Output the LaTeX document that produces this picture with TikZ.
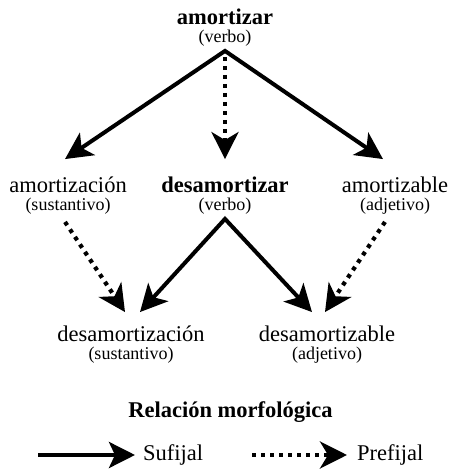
\documentclass[tikz,border=0pt]{standalone}
\usepackage{fontspec}
\setmainfont{Liberation Serif}
\usetikzlibrary{arrows.meta,positioning}

\tikzset{
  palabra/.style={align=center,inner sep=0pt,font=\rmfamily\fontsize{22.5}{18}\selectfont},
  sufijal/.style={line width=4pt,line join=miter,-{Stealth[length=26pt,width=26pt,inset=6pt]}},
  bisufijal/.style={line width=4pt,line join=miter,{Stealth[length=27pt,width=27pt,inset=7pt]}-{Stealth[length=27pt,width=27pt,inset=7pt]}},
  prefijal/.style={line width=4.2pt,dash pattern=on 4pt off 5pt,-{Stealth[length=27pt,width=27pt,inset=8pt]}},
}
\newcommand{\categoria}[1]{{\fontsize{18}{18}\selectfont(#1)}}

\begin{document}
\begin{tikzpicture}[x=1pt,y=1pt]
        \useasboundingbox (0,0) rectangle (451,469);
        % palabras
        \node[palabra] (amortizar) at (225,441) {\textbf{amortizar}\\\categoria{verbo}};
        \node[palabra] (amortizacion) at (68,273) {amortización\\\categoria{sustantivo}};
        \node[palabra] (desamortizar) at (225,273) {\textbf{desamortizar}\\\categoria{verbo}};
        \node[palabra] (amortizable) at (395,273) {amortizable\\\categoria{adjetivo}};
        \node[palabra] (desamortizacion) at (131,124) {desamortización\\\categoria{sustantivo}};
        \node[palabra] (desamortizable) at (327,124) {desamortizable\\\categoria{adjetivo}};
        % relaciones
        \coordinate (v1) at ([yshift=-4pt]amortizar.south);
        \coordinate (v2) at ([yshift=-4pt]desamortizar.south);
        \draw[bisufijal] ([xshift=-3pt,yshift=18pt]amortizacion.north) -- (v1) -- ([xshift=-12pt,yshift=18pt]amortizable.north);
        \draw[prefijal] ([yshift=-6pt]v1) -- ([yshift=18pt]desamortizar.north);
        \draw[bisufijal] ([xshift=9pt,yshift=14pt]desamortizacion.north) -- (v2) -- ([xshift=-15pt,yshift=14pt]desamortizable.north);
        \draw[prefijal] ([xshift=-3pt,yshift=-7pt]amortizacion.south) -- ([xshift=-6pt,yshift=14pt]desamortizacion.north);
        \draw[prefijal] ([xshift=-10pt,yshift=-7pt]amortizable.south) -- ([xshift=-2pt,yshift=14pt]desamortizable.north);
        % leyenda
        \node[font=\rmfamily\bfseries\fontsize{22.5}{27}\selectfont,anchor=base] (relacion) at (230.5,51) {Relación morfológica};
        \coordinate (s0) at (38,14);
        \coordinate (p0) at (252,14);
        \node[palabra,anchor=west] (legsuf) at (143,14) {Sufijal};
        \node[palabra,anchor=west] (legpre) at (357,14) {Prefijal};
        \draw[sufijal] (s0) -- ([xshift=-8pt]legsuf.west);
        \draw[prefijal] (p0) -- ([xshift=-10pt]legpre.west);
\end{tikzpicture}
\end{document}
